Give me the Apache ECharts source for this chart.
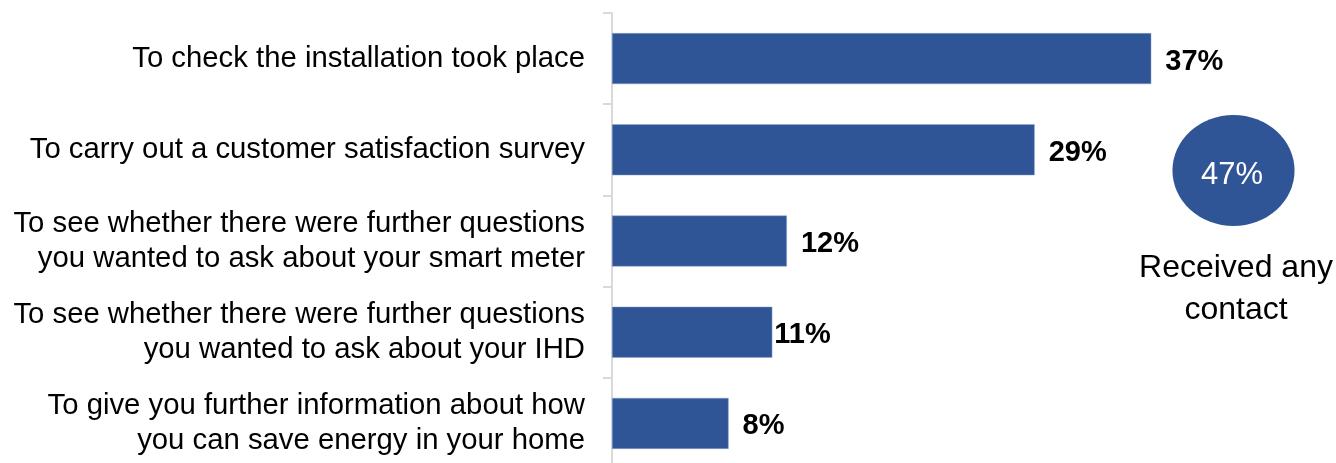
<!DOCTYPE html>
<html>
<head>
<meta charset="utf-8">
<script src="https://cdn.jsdelivr.net/npm/echarts@6/dist/echarts.min.js"></script>
<style>
  html, body { margin: 0; padding: 0; background: #ffffff; }
  #chart { width: 1336px; height: 463px; }
</style>
</head>
<body>
<div id="chart"></div>
<script>
// Reasons for follow-up contact after the smart meter installation
const categories = [
  'To check the installation took place',
  'To carry out a customer satisfaction survey',
  'To see whether there were further questions\nyou wanted to ask about your smart meter',
  'To see whether there were further questions\nyou wanted to ask about your IHD',
  'To give you further information about how\nyou can save energy in your home'
];
const shares = [37, 29, 12, 11, 8];
const contactShare = 47;
const contactCaption = ['Received any', 'contact'];

const FONT = '"Liberation Sans", Arial, sans-serif';
const BAR = '#2F5597';

const chart = echarts.init(document.getElementById('chart'));

const barData = shares.map((v, i) => {
  const item = { value: v };
  // the 11% label sits tight against its bar
  if (i === 3) item.label = { distance: 2 };
  return item;
});

chart.setOption({
  animation: false,
  // plot runs slightly past the bottom edge, so the last band is clipped
  grid: {
    left: 612, top: 13, width: 583, height: 456,
    containLabel: false,
    outerBoundsMode: 'none'
  },
  xAxis: {
    type: 'value',
    min: 0,
    max: 40,
    show: false
  },
  yAxis: {
    type: 'category',
    inverse: true,
    data: categories,
    axisLine: { show: true, lineStyle: { color: '#d9d9d9', width: 2 } },
    axisTick: { show: true, length: 9, lineStyle: { color: '#d9d9d9', width: 2 } },
    axisLabel: {
      margin: 27,
      fontFamily: FONT,
      fontSize: 29.3,
      lineHeight: 35,
      color: '#000000',
      align: 'right'
    }
  },
  series: [{
    type: 'bar',
    data: barData,
    barWidth: 51,
    itemStyle: { color: BAR, borderColor: '#8fa6cf', borderWidth: 0.5 },
    label: {
      show: true,
      position: 'right',
      distance: 14,
      offset: [0, 3],
      fontFamily: FONT,
      fontSize: 29,
      fontWeight: 'bold',
      color: '#000000',
      formatter: p => p.value + '%'
    }
  }],
  graphic: [
    {
      type: 'circle',
      x: 1233.5,
      y: 170.5,
      scaleX: 1.1,
      shape: { cx: 0, cy: 0, r: 55.5 },
      style: { fill: BAR }
    },
    {
      type: 'text',
      x: 1232,
      y: 175,
      style: {
        text: contactShare + '%',
        fill: '#ffffff',
        font: '31px ' + FONT,
        textAlign: 'center',
        textVerticalAlign: 'middle'
      }
    },
    {
      type: 'text',
      x: 1236,
      y: 268,
      style: {
        text: contactCaption[0],
        fill: '#000000',
        font: '32px ' + FONT,
        textAlign: 'center',
        textVerticalAlign: 'middle'
      }
    },
    {
      type: 'text',
      x: 1236,
      y: 310,
      style: {
        text: contactCaption[1],
        fill: '#000000',
        font: '32px ' + FONT,
        textAlign: 'center',
        textVerticalAlign: 'middle'
      }
    }
  ]
});
</script>
</body>
</html>
